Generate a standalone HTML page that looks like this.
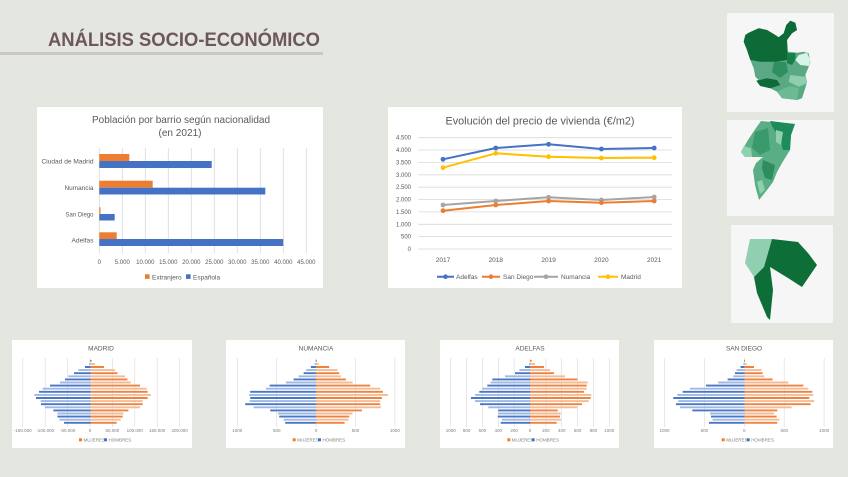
<!DOCTYPE html>
<html><head><meta charset="utf-8"><style>
html,body{margin:0;padding:0;background:#e4e6e0;}
svg{display:block;}
text{font-family:"Liberation Sans",sans-serif;}
</style></head><body>
<svg width="848" height="477" viewBox="0 0 848 477" xmlns="http://www.w3.org/2000/svg">
<rect width="848" height="477" fill="#e4e6e0"/>
<!-- Title -->
<text x="48" y="46" font-size="19.5" font-weight="bold" fill="#6e575b" textLength="272" lengthAdjust="spacingAndGlyphs">ANÁLISIS SOCIO-ECONÓMICO</text>
<rect x="0" y="52" width="323" height="3" fill="#cbc8c6"/>

<!-- Bar chart -->
<rect x="37" y="107" width="286" height="181" fill="#ffffff"/>
<text x="181" y="123" font-size="10.5" fill="#595959" text-anchor="middle" textLength="178" lengthAdjust="spacingAndGlyphs">Población por barrio según nacionalidad</text>
<text x="180" y="136" font-size="10.5" fill="#595959" text-anchor="middle" textLength="43" lengthAdjust="spacingAndGlyphs">(en 2021)</text>
<g stroke="#d9d9d9" stroke-width="0.8">
<path d="M99.3 148V253M122.3 148V253M145.3 148V253M168.3 148V253M191.3 148V253M214.3 148V253M237.3 148V253M260.3 148V253M283.3 148V253M306.3 148V253"/>
</g>
<g fill="#ed7d31">
<rect x="99.3" y="154" width="30" height="7"/>
<rect x="99.3" y="180.7" width="53.4" height="7"/>
<rect x="99.3" y="207.3" width="1.2" height="6.7"/>
<rect x="99.3" y="232.3" width="17.4" height="6.7"/>
</g>
<g fill="#4472c4">
<rect x="99.3" y="161" width="112.4" height="7"/>
<rect x="99.3" y="187.7" width="166" height="6.8"/>
<rect x="99.3" y="214" width="15.4" height="6.5"/>
<rect x="99.3" y="239" width="184" height="7"/>
</g>
<g font-size="6.5" fill="#595959" text-anchor="end">
<text x="93.5" y="163.5" textLength="52" lengthAdjust="spacingAndGlyphs">Ciudad de Madrid</text>
<text x="93.5" y="190" textLength="29" lengthAdjust="spacingAndGlyphs">Numancia</text>
<text x="93.5" y="216.5" textLength="28" lengthAdjust="spacingAndGlyphs">San Diego</text>
<text x="93.5" y="242.5" textLength="22" lengthAdjust="spacingAndGlyphs">Adelfas</text>
</g>
<g font-size="6" fill="#595959" text-anchor="middle">
<text x="99.3" y="264">0</text>
<text x="122.3" y="264">5.000</text>
<text x="145.3" y="264">10.000</text>
<text x="168.3" y="264">15.000</text>
<text x="191.3" y="264">20.000</text>
<text x="214.3" y="264">25.000</text>
<text x="237.3" y="264">30.000</text>
<text x="260.3" y="264">35.000</text>
<text x="283.3" y="264">40.000</text>
<text x="306.3" y="264">45.000</text>
</g>
<rect x="145" y="274.3" width="4.6" height="4.6" fill="#ed7d31"/>
<text x="152" y="279.3" font-size="6.5" fill="#595959">Extranjero</text>
<rect x="186" y="274.3" width="4.6" height="4.6" fill="#4472c4"/>
<text x="193" y="279.3" font-size="6.5" fill="#595959">Española</text>

<!-- Line chart -->
<rect x="388" y="107" width="294" height="181" fill="#ffffff"/>
<text x="540" y="124.5" font-size="11" fill="#595959" text-anchor="middle" textLength="189" lengthAdjust="spacingAndGlyphs">Evolución del precio de vivienda (€/m2)</text>
<g stroke="#d9d9d9" stroke-width="0.8">
<path d="M418 249H672M418 236.6H672M418 224.3H672M418 211.9H672M418 199.5H672M418 187.2H672M418 174.8H672M418 162.4H672M418 150H672M418 137.7H672"/>
</g>
<g font-size="6" fill="#595959" text-anchor="end">
<text x="411" y="251">0</text>
<text x="411" y="238.6">500</text>
<text x="411" y="226.3">1.000</text>
<text x="411" y="213.9">1.500</text>
<text x="411" y="201.5">2.000</text>
<text x="411" y="189.2">2.500</text>
<text x="411" y="176.8">3.000</text>
<text x="411" y="164.4">3.500</text>
<text x="411" y="152">4.000</text>
<text x="411" y="139.7">4.500</text>
</g>
<g font-size="6.5" fill="#595959" text-anchor="middle">
<text x="443" y="262">2017</text>
<text x="495.8" y="262">2018</text>
<text x="548.6" y="262">2019</text>
<text x="601.4" y="262">2020</text>
<text x="654.2" y="262">2021</text>
</g>
<g fill="none" stroke-width="2" stroke-linejoin="round">
<polyline stroke="#a5a5a5" points="443,205 495.8,201 548.6,197.3 601.4,200 654.2,197"/>
<polyline stroke="#ed7d31" points="443,210.7 495.8,205 548.6,201 601.4,202.7 654.2,201"/>
<polyline stroke="#ffc000" points="443,167.7 495.8,153.3 548.6,156.7 601.4,158 654.2,157.7"/>
<polyline stroke="#4472c4" points="443,159.3 495.8,148 548.6,144.3 601.4,149 654.2,148"/>
</g>
<g fill="#a5a5a5"><circle cx="443" cy="205" r="2.4"/><circle cx="495.8" cy="201" r="2.4"/><circle cx="548.6" cy="197.3" r="2.4"/><circle cx="601.4" cy="200" r="2.4"/><circle cx="654.2" cy="197" r="2.4"/></g>
<g fill="#ed7d31"><circle cx="443" cy="210.7" r="2.4"/><circle cx="495.8" cy="205" r="2.4"/><circle cx="548.6" cy="201" r="2.4"/><circle cx="601.4" cy="202.7" r="2.4"/><circle cx="654.2" cy="201" r="2.4"/></g>
<g fill="#ffc000"><circle cx="443" cy="167.7" r="2.4"/><circle cx="495.8" cy="153.3" r="2.4"/><circle cx="548.6" cy="156.7" r="2.4"/><circle cx="601.4" cy="158" r="2.4"/><circle cx="654.2" cy="157.7" r="2.4"/></g>
<g fill="#4472c4"><circle cx="443" cy="159.3" r="2.4"/><circle cx="495.8" cy="148" r="2.4"/><circle cx="548.6" cy="144.3" r="2.4"/><circle cx="601.4" cy="149" r="2.4"/><circle cx="654.2" cy="148" r="2.4"/></g>
<!-- legend -->
<g stroke-width="2">
<path d="M437 276.7H454" stroke="#4472c4"/>
<path d="M482 276.7H500" stroke="#ed7d31"/>
<path d="M534 276.7H558" stroke="#a5a5a5"/>
<path d="M598 276.7H618" stroke="#ffc000"/>
</g>
<circle cx="445.5" cy="276.7" r="2.3" fill="#4472c4"/>
<circle cx="491" cy="276.7" r="2.3" fill="#ed7d31"/>
<circle cx="546" cy="276.7" r="2.3" fill="#a5a5a5"/>
<circle cx="608" cy="276.7" r="2.3" fill="#ffc000"/>
<g font-size="6.5" fill="#595959">
<text x="456" y="279">Adelfas</text>
<text x="503" y="279">San Diego</text>
<text x="561" y="279">Numancia</text>
<text x="621" y="279">Madrid</text>
</g>

<!-- Maps -->
<rect x="727" y="13" width="107" height="99" fill="#f6f6f6"/>
<polygon fill="#5aa984" points="745.3,35 748.7,32.7 758.7,28.3 767,30 773.7,34 778.7,37.3 783.7,33.3 786.3,25 790.3,20.7 795.3,22.7 797,30 792,33.3 787,40 787.7,51.7 797,52.7 803.7,51.7 808.7,53.3 810.3,61.7 808.7,66.7 805.3,75 807,81.7 805.3,88.3 802,98.3 797,100 782,98.3 777,91.7 770.3,88.3 760.3,86 756.3,80.7 758.7,80 755.3,76.7 753.7,68.3 750.3,60 747,50 743.7,41.7"/>
<polygon fill="#0d6b38" points="745.3,35 748.7,32.7 758.7,28.3 767,30 773.7,34 778.7,37.3 783.7,33.3 786.3,25 790.3,20.7 795.3,22.7 797,30 792,33.3 787,40 787.7,51.7 787,60 777,61.7 760.3,61.7 750.3,60 747,50 743.7,41.7"/>
<polygon fill="#16804a" points="787,53.3 795.3,52.7 795.3,60 792,65 787,63.3"/>
<polygon fill="#2f8f5f" points="774,62 786,62 788,72 780,78 772,72"/>
<polygon fill="#0d6b38" points="756.3,80.7 767,78.3 777,80 780.3,85 770.3,88.3 760.3,86"/>
<polygon fill="#d8f4e8" points="795.3,60 798.7,55 807,52.7 810.3,60 808.7,66 800.3,65"/>
<polygon fill="#8fcfae" points="790.3,75 805.3,76.7 807,83.3 798.7,86.7 788.7,81.7"/>
<polygon fill="#6dbb93" points="777,91.7 790,86 798.7,88 797,100 782,98.3"/>

<rect x="727" y="120" width="107" height="96" fill="#f6f6f6"/>
<polygon fill="#5aae86" points="761,121 795,124 791,135 790,150 782,163 777,172 773,182 767,190 759,200 755,185 753,170 756,163 763,157 745,157 741,152 748,140 756,128"/>
<polygon fill="#1e8c5a" points="770,121 795,124 791,135 790,150 783,150 780,138 773,128"/>
<polygon fill="#8fd0ae" points="741,152 745,157 752,157 751,148 744,146"/>
<polygon fill="#8fd0ae" points="776,130 783,132 781,145 776,142"/>
<polygon fill="#8fd0ae" points="757,182 762,180 765,190 760,194"/>
<polygon fill="#3b9a6b" points="755,132 768,128 770,150 760,155 752,148"/>
<polygon fill="#2d8d5e" points="763,160 775,165 772,180 765,178 762,168"/>

<rect x="731" y="225" width="102" height="98" fill="#f6f6f6"/>
<polygon fill="#90cfaf" points="750,239 772,239 764,267 754,277 745,263"/>
<polygon fill="#0e6e37" points="772,239 798,242 808,253 817,265 802,287 788,278 770,267 773,290 770,320 767,317 757,293 754,277 764,267"/>

<!-- Pyramids boxes -->
<rect x="12" y="340" width="180" height="108" fill="#ffffff"/>
<rect x="226" y="340" width="179" height="108" fill="#ffffff"/>
<rect x="440" y="340" width="179" height="108" fill="#ffffff"/>
<rect x="654" y="340" width="179" height="108" fill="#ffffff"/>

<g font-size="6.5" fill="#595959" text-anchor="middle">
<text x="101" y="350.5">MADRID</text>
<text x="316" y="350.5">NUMANCIA</text>
<text x="530" y="350.5">ADELFAS</text>
<text x="744" y="350.5">SAN DIEGO</text>
</g>

<!-- gridlines -->
<g stroke="#d9d9d9" stroke-width="0.6">
<path d="M22.8 358V427M45.2 358V427M67.6 358V427M90 358V427M112.4 358V427M134.8 358V427M157.2 358V427M179.6 358V427"/>
<path d="M237.3 358V427M276.7 358V427M316.1 358V427M355.5 358V427M394.9 358V427"/>
<path d="M450.7 358V427M466.6 358V427M482.4 358V427M498.3 358V427M514.1 358V427M530 358V427M545.9 358V427M561.7 358V427M577.6 358V427M593.4 358V427M609.3 358V427"/>
<path d="M664.5 358V427M704.4 358V427M744.3 358V427M784.2 358V427M824.1 358V427"/>
</g>

<g stroke-width="1.9" fill="none">
<!-- Madrid -->
<path transform="translate(90.7,0)" stroke="#ee8240" d="M0 360.8h1M0 367h13.3M0 373.2h26.7M0 379.4h36.7M0 385.6h49.3M0 391.8h57M0 398h57M0 404.2h52M0 410.4h37.7M0 416.6h32M0 422.8h26"/>
<path transform="translate(90.7,0)" stroke="#f6bb92" d="M0 363.9h4.3M0 370.1h24.3M0 376.3h34.3M0 382.5h40M0 388.7h56M0 394.9h60.3M0 401.1h52M0 407.3h49.3M0 413.5h32.7M0 419.7h30"/>
<path transform="translate(90.7,0)" stroke="#4a76c6" d="M0 360.8h-0.7M0 367h-5.7M0 373.2h-16.7M0 379.4h-25.7M0 385.6h-40.7M0 391.8h-51.7M0 398h-54.7M0 404.2h-49.7M0 410.4h-37.3M0 416.6h-33.3M0 422.8h-26.7"/>
<path transform="translate(90.7,0)" stroke="#9fb8e4" d="M0 363.9h-1.7M0 370.1h-12.3M0 376.3h-22.3M0 382.5h-30.7M0 388.7h-48M0 394.9h-56.3M0 401.1h-50M0 407.3h-45.7M0 413.5h-33.3M0 419.7h-31.3"/>
<!-- Numancia -->
<path transform="translate(315.9,0)" stroke="#ee8240" d="M0 360.8h1M0 367h13.3M0 373.2h23.3M0 379.4h30M0 385.6h54.3M0 391.8h67M0 398h66M0 404.2h64.3M0 410.4h46M0 416.6h33.3M0 422.8h28.7"/>
<path transform="translate(315.9,0)" stroke="#f6bb92" d="M0 363.9h2.7M0 370.1h21.7M0 376.3h25M0 382.5h36.7M0 388.7h64.3M0 394.9h72M0 401.1h64.3M0 407.3h65M0 413.5h36.7M0 419.7h32.7"/>
<path transform="translate(315.9,0)" stroke="#4a76c6" d="M0 360.8h-0.3M0 367h-5M0 373.2h-12.3M0 379.4h-22.3M0 385.6h-46.3M0 391.8h-65.7M0 398h-65.7M0 404.2h-70.7M0 410.4h-45.7M0 416.6h-36.7M0 422.8h-30.7"/>
<path transform="translate(315.9,0)" stroke="#9fb8e4" d="M0 363.9h-1.3M0 370.1h-9.7M0 376.3h-17.3M0 382.5h-30M0 388.7h-50M0 394.9h-66.7M0 401.1h-66.3M0 407.3h-62.3M0 413.5h-38M0 419.7h-32.3"/>
<!-- Adelfas -->
<path transform="translate(530,0)" stroke="#ee8240" d="M0 360.8h1.7M0 367h14M0 373.2h24M0 379.4h47.3M0 385.6h56.7M0 391.8h54M0 398h60.7M0 404.2h52M0 410.4h27.7M0 416.6h30M0 422.8h26.7"/>
<path transform="translate(530,0)" stroke="#f6bb92" d="M0 363.9h5M0 370.1h20M0 376.3h35M0 382.5h57.7M0 388.7h56.7M0 394.9h61.3M0 401.1h58.7M0 407.3h47.3M0 413.5h30.7M0 419.7h31"/>
<path transform="translate(530,0)" stroke="#4a76c6" d="M0 367h-5M0 373.2h-15M0 379.4h-37.7M0 385.6h-42.7M0 391.8h-50.7M0 398h-59M0 404.2h-50M0 410.4h-31.7M0 416.6h-32.3M0 422.8h-29.3"/>
<path transform="translate(530,0)" stroke="#9fb8e4" d="M0 363.9h-1M0 370.1h-10.7M0 376.3h-25M0 382.5h-39.3M0 388.7h-47.7M0 394.9h-55M0 401.1h-55M0 407.3h-41.7M0 413.5h-31.7M0 419.7h-28.3"/>
<!-- San Diego -->
<path transform="translate(744.3,0)" stroke="#ee8240" d="M0 360.8h0.7M0 367h9.7M0 373.2h18.3M0 379.4h28.3M0 385.6h59M0 391.8h68M0 398h65M0 404.2h66.3M0 410.4h33M0 416.6h32.3M0 422.8h33"/>
<path transform="translate(744.3,0)" stroke="#f6bb92" d="M0 363.9h2.3M0 370.1h17.3M0 376.3h20M0 382.5h44M0 388.7h64M0 394.9h69M0 401.1h70M0 407.3h47.3M0 413.5h29.7M0 419.7h35"/>
<path transform="translate(744.3,0)" stroke="#4a76c6" d="M0 360.8h-0.3M0 367h-3.7M0 373.2h-9.3M0 379.4h-16.7M0 385.6h-38.3M0 391.8h-61.7M0 398h-71M0 404.2h-68.3M0 410.4h-52M0 416.6h-33.3M0 422.8h-35.3"/>
<path transform="translate(744.3,0)" stroke="#9fb8e4" d="M0 363.9h-1M0 370.1h-7.7M0 376.3h-11M0 382.5h-26M0 388.7h-54.3M0 394.9h-67M0 401.1h-66M0 407.3h-64.3M0 413.5h-34.3M0 419.7h-31.7"/>
</g>

<!-- Pyramid tick labels -->
<g font-size="4.5" fill="#7f7f7f" text-anchor="middle">
<text x="22.8" y="432">-150.000</text><text x="45.2" y="432">-100.000</text><text x="67.6" y="432">-50.000</text><text x="90" y="432">0</text><text x="112.4" y="432">50.000</text><text x="134.8" y="432">100.000</text><text x="157.2" y="432">150.000</text><text x="179.6" y="432">200.000</text>
<text x="237.3" y="432">1000</text><text x="276.7" y="432">500</text><text x="316.1" y="432">0</text><text x="355.5" y="432">500</text><text x="394.9" y="432">1000</text>
<text x="450.7" y="432">1000</text><text x="466.6" y="432">800</text><text x="482.4" y="432">600</text><text x="498.3" y="432">400</text><text x="514.1" y="432">200</text><text x="530" y="432">0</text><text x="545.9" y="432">200</text><text x="561.7" y="432">400</text><text x="577.6" y="432">600</text><text x="593.4" y="432">800</text><text x="609.3" y="432">1000</text>
<text x="664.5" y="432">1000</text><text x="704.4" y="432">500</text><text x="744.3" y="432">0</text><text x="784.2" y="432">500</text><text x="824.1" y="432">1000</text>
</g>
<!-- Pyramid legends -->
<g font-size="4.5" fill="#7f7f7f">
<rect x="79" y="438.3" width="3" height="3" fill="#ed7d31"/><text x="83.5" y="441.5">MUJERES</text>
<rect x="104" y="438.3" width="3" height="3" fill="#4472c4"/><text x="108.5" y="441.5">HOMBRES</text>
<rect x="292.7" y="438.3" width="3" height="3" fill="#ed7d31"/><text x="297.2" y="441.5">MUJERES</text>
<rect x="318" y="438.3" width="3" height="3" fill="#4472c4"/><text x="322.5" y="441.5">HOMBRES</text>
<rect x="507.3" y="438.3" width="3" height="3" fill="#ed7d31"/><text x="511.8" y="441.5">MUJERES</text>
<rect x="531.7" y="438.3" width="3" height="3" fill="#4472c4"/><text x="536.2" y="441.5">HOMBRES</text>
<rect x="721.7" y="438.3" width="3" height="3" fill="#ed7d31"/><text x="726.2" y="441.5">MUJERES</text>
<rect x="746.7" y="438.3" width="3" height="3" fill="#4472c4"/><text x="751.2" y="441.5">HOMBRES</text>
</g>
</svg>
</body></html>
